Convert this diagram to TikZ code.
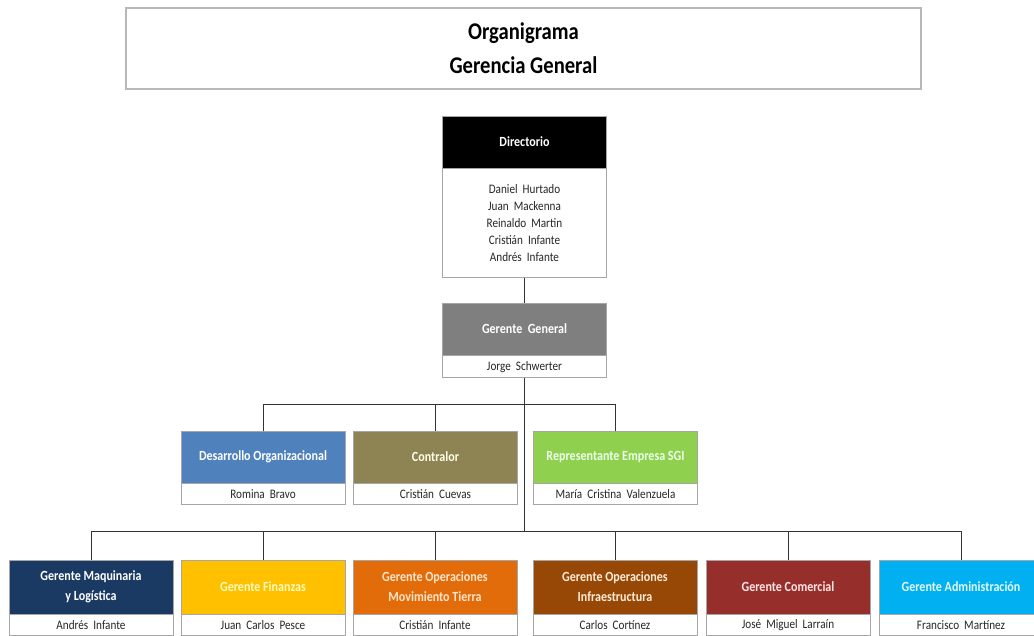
\documentclass[tikz,border=0pt]{standalone}
\usepackage{fontspec}
\setmainfont{Carlito}[FakeStretch=0.86]
\definecolor{cGG}{HTML}{7F7F7F}
\definecolor{cDes}{HTML}{4F81BD}
\definecolor{cCon}{HTML}{8E8352}
\definecolor{cRep}{HTML}{8FD14F}
\definecolor{cMaq}{HTML}{1B3A63}
\definecolor{cFin}{HTML}{FFC000}
\definecolor{cMov}{HTML}{E36C0A}
\definecolor{cInf}{HTML}{974806}
\definecolor{cCom}{HTML}{962F2B}
\definecolor{cAdm}{HTML}{00B0F0}
\definecolor{bord}{HTML}{A6A6A6}
\tikzset{
  hdr/.style={rectangle, draw=bord, line width=0.6pt, minimum width=164pt, minimum height=52pt,
    inner sep=1pt, text=white, align=center, font=\fontsize{14}{20}\selectfont\bfseries},
  bodybox/.style={rectangle, draw=bord, line width=0.6pt, fill=white, minimum width=164pt,
    minimum height=21pt, inner sep=1pt, anchor=north, align=center,
    font=\fontsize{13}{17}\selectfont, text=black!85},
  conn/.style={draw=black!80, line width=0.7pt},
}
\begin{document}
\begin{tikzpicture}[x=1pt,y=-1pt]
\useasboundingbox (0,0) rectangle (1034,635);
\clip (0,0) rectangle (1034,635);
% title
\node[rectangle, draw=bord!80, line width=1.2pt, minimum width=795pt, minimum height=81pt,
  align=center, font=\fontsize{24}{34}\selectfont\bfseries] (title) at (523.5,48.5)
  {Organigrama\\Gerencia General};
% Directorio
\node[hdr, fill=black] (dir) at (524.5,142) {Directorio};
\node[bodybox, minimum height=109pt] (dirb) at (dir.south)
  {Daniel\ \ Hurtado\\Juan\ \ Mackenna\\Reinaldo\ \ Martin\\Cristián\ \ Infante\\Andrés\ \ Infante};
% Gerente General
\node[hdr, fill=cGG] (gg) at (524.5,329) {Gerente\ \ General};
\node[bodybox, minimum height=22pt] (ggb) at (gg.south) {Jorge\ \ Schwerter};
% row 2
\node[hdr, fill=cDes] (des) at (263,457) {Desarrollo Organizacional};
\node[bodybox] (desb) at (des.south) {Romina\ \ Bravo};
\node[hdr, fill=cCon, text=white!90!yellow] (con) at (435.5,457) {Contralor};
\node[bodybox] (conb) at (con.south) {Cristián\ \ Cuevas};
\node[hdr, fill=cRep, text=white!92!green] (rep) at (615.5,457) {Representante Empresa SGI};
\node[bodybox] (repb) at (rep.south) {María\ \ Cristina\ \ Valenzuela};
% row 3
\node[hdr, fill=cMaq, minimum height=54pt] (maq) at (91,587) {Gerente Maquinaria\\y Logística};
\node[bodybox] (maqb) at (maq.south) {Andrés\ \ Infante};
\node[hdr, fill=cFin, minimum height=54pt, text=yellow!25!white] (fin) at (263,587) {Gerente Finanzas};
\node[bodybox] (finb) at (fin.south) {Juan\ \ Carlos\ \ Pesce};
\node[hdr, fill=cMov, minimum height=54pt, text=orange!20!white] (mov) at (435,587) {Gerente Operaciones\\Movimiento Tierra};
\node[bodybox] (movb) at (mov.south) {Cristián\ \ Infante};
\node[hdr, fill=cInf, minimum height=54pt, text=orange!15!white] (inf) at (615,587) {Gerente Operaciones\\Infraestructura};
\node[bodybox] (infb) at (inf.south) {Carlos\ \ Cortínez};
\node[hdr, fill=cCom, minimum height=54pt, text=red!10!white] (com) at (788,587) {Gerente Comercial};
\node[bodybox] (comb) at (com.south) {José\ \ Miguel\ \ Larraín};
\node[hdr, fill=cAdm, minimum height=54pt, text=cyan!10!white] (adm) at (961,587) {Gerente Administración};
\node[bodybox] (admb) at (adm.south) {Francisco\ \ Martínez};
% connectors
\coordinate (bus1) at (524.5,404);
\coordinate (bus2) at (524.5,531);
\draw[conn] (dirb.south) -- (gg.north);
\draw[conn] (ggb.south) -- (bus2);
\draw[conn] (des.north) -- (des.north |- bus1) -- (rep.north |- bus1) -- (rep.north);
\draw[conn] (con.north) -- (con.north |- bus1);
\draw[conn] (maq.north) -- (maq.north |- bus2) -- (adm.north |- bus2) -- (adm.north);
\draw[conn] (fin.north) -- (fin.north |- bus2);
\draw[conn] (mov.north) -- (mov.north |- bus2);
\draw[conn] (inf.north) -- (inf.north |- bus2);
\draw[conn] (com.north) -- (com.north |- bus2);
\end{tikzpicture}
\end{document}
